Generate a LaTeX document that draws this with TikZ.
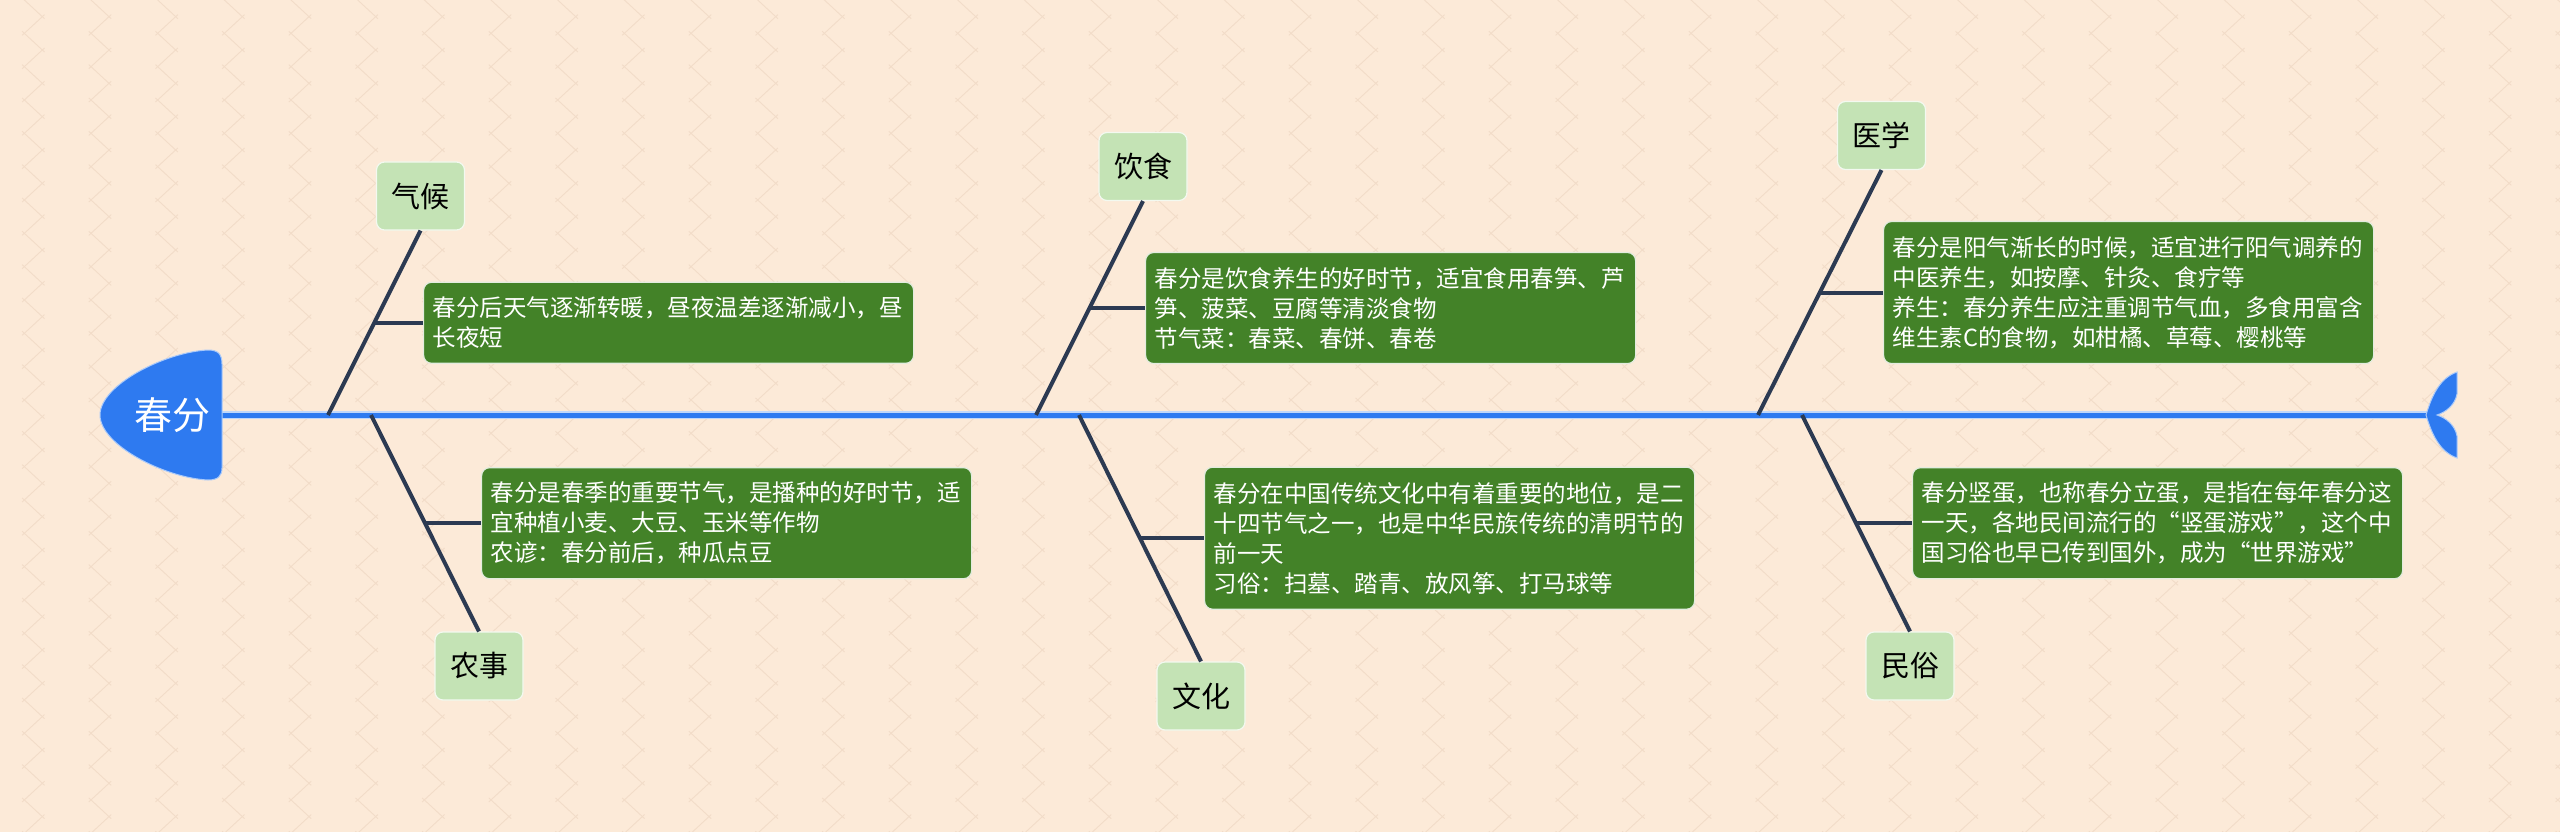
\documentclass[tikz,border=0pt]{standalone}
\usepackage{fontspec}
\setmainfont{Noto Sans CJK SC}
\usetikzlibrary{calc}
\definecolor{bgc}{RGB}{252,234,216}
\definecolor{patc}{RGB}{242,220,200}
\definecolor{spinec}{RGB}{46,122,240}
\definecolor{bonec}{RGB}{44,58,82}
\definecolor{lgreen}{RGB}{196,227,181}
\definecolor{dgreen}{RGB}{67,130,40}
\tikzset{
  pat/.style={draw=patc, line width=0.9pt, shorten <=-3pt, shorten >=-3pt},
  spineline/.style={draw=spinec, line width=5pt},
  spineedge/.style={draw=white!70!spinec, line width=7.5pt},
  bone/.style={draw=bonec, line width=4pt},
  twig/.style={draw=bonec, line width=4pt},
  detail/.style={draw=white!85!dgreen, line width=1.2pt, fill=dgreen, rounded corners=8pt,
    text=white, font=\fontsize{23.5pt}{30pt}\selectfont, align=left, text width=472pt,
    inner xsep=9pt, inner ysep=0pt, anchor=west},
  cat/.style={draw=white!80!lgreen, line width=1.2pt, fill=lgreen, rounded corners=8pt,
    text=black, font=\fontsize{29pt}{34pt}\selectfont, minimum width=88pt, minimum height=68pt,
    inner sep=0pt},
  fishpart/.style={fill=spinec, draw=white!60!spinec, line width=1pt},
}
\begin{document}
\begin{tikzpicture}[x=1pt,y=-1pt]
\useasboundingbox (0,0) rectangle (2560,832);
\fill[bgc] (0,0) rectangle (2560,832);
% background pattern
\foreach \c in {0,...,38}{
  \pgfmathsetmacro\cx{33.33+66.67*\c}
  \foreach \k in {0,...,25}{
    \pgfmathsetmacro\ya{33.33*\k}
    \draw[pat] (\cx-9,\ya) -- (\cx+9,\ya+16.67);
    \draw[pat] (\cx+9,\ya+16.67) -- (\cx-9,\ya+33.33);
  }
}
% spine coordinates
\coordinate (headE) at (220,415);
\coordinate (tailJ) at (2432,415);
\coordinate (s1) at (328,415);
\coordinate (s2) at (371,415);
\coordinate (s3) at (1036,415);
\coordinate (s4) at (1079,415);
\coordinate (s5) at (1758,415);
\coordinate (s6) at (1802,415);
% spine
\draw[spineedge] (headE) -- (tailJ);
\draw[spineline] (headE) -- (tailJ);
% head
\path[fishpart] (222,468) -- (222,364)
  .. controls (222,354) and (218,350) .. (208,350)
  .. controls (165,352) and (100,385) .. (100,415)
  .. controls (100,445) and (165,478) .. (208,480)
  .. controls (218,480) and (222,476) .. (222,468) -- cycle;
\node[text=white, font=\fontsize{38pt}{40pt}\selectfont, inner sep=0pt] (head) at (172,415) {春分};
% tail
\path[fishpart] (2426,415) .. controls (2432,395) and (2440,378) .. (2457,372)
  -- (2457,394) .. controls (2455,405) and (2446,412) .. (2437,415)
  .. controls (2446,418) and (2455,425) .. (2457,436)
  -- (2457,458) .. controls (2440,452) and (2432,435) .. (2426,415) -- cycle;
% category labels
\node[cat] (l1) at (420.5,196) {气候};
\node[cat] (l2) at (479,666) {农事};
\node[cat] (l3) at (1143,166.5) {饮食};
\node[cat] (l4) at (1201,696) {文化};
\node[cat] (l5) at (1881.5,135.5) {医学};
\node[cat] (l6) at (1910,666) {民俗};
% bones
\draw[bone] (s1) -- (l1.south);
\draw[bone] (s2) -- (l2.north);
\draw[bone] (s3) -- (l3.south);
\draw[bone] (s4) -- (l4.north);
\draw[bone] (s5) -- (l5.south);
\draw[bone] (s6) -- (l6.north);
% midpoints
\coordinate (m1) at ($(s1)!0.5!(l1.south)$);
\coordinate (m2) at ($(s2)!0.5!(l2.north)$);
\coordinate (m3) at ($(s3)!0.5!(l3.south)$);
\coordinate (m4) at ($(s4)!0.5!(l4.north)$);
\coordinate (m5) at ($(s5)!0.5!(l5.south)$);
\coordinate (m6) at ($(s6)!0.5!(l6.north)$);
% detail boxes
\node[detail, minimum height=81pt] (t1) at (423,0 |- m1) {春分后天气逐渐转暖，昼夜温差逐渐减小，昼\\长夜短};
\node[detail, minimum height=111pt] (t2) at (481,0 |- m2) {春分是春季的重要节气，是播种的好时节，适\\宜种植小麦、大豆、玉米等作物\\农谚：春分前后，种瓜点豆};
\node[detail, minimum height=111pt] (t3) at (1145,0 |- m3) {春分是饮食养生的好时节，适宜食用春笋、芦\\笋、菠菜、豆腐等清淡食物\\节气菜：春菜、春饼、春卷};
\node[detail, minimum height=142pt] (t4) at (1204,0 |- m4) {春分在中国传统文化中有着重要的地位，是二\\十四节气之一，也是中华民族传统的清明节的\\前一天\\习俗：扫墓、踏青、放风筝、打马球等};
\node[detail, minimum height=142pt] (t5) at (1883,0 |- m5) {春分是阳气渐长的时候，适宜进行阳气调养的\\中医养生，如按摩、针灸、食疗等\\养生：春分养生应注重调节气血，多食用富含\\维生素C的食物，如柑橘、草莓、樱桃等};
\node[detail, minimum height=111pt] (t6) at (1912,0 |- m6) {春分竖蛋，也称春分立蛋，是指在每年春分这\\一天，各地民间流行的“竖蛋游戏”，这个中\\国习俗也早已传到国外，成为“世界游戏”};
% twigs
\draw[twig] (m1) -- (m1 -| t1.west);
\draw[twig] (m2) -- (m2 -| t2.west);
\draw[twig] (m3) -- (m3 -| t3.west);
\draw[twig] (m4) -- (m4 -| t4.west);
\draw[twig] (m5) -- (m5 -| t5.west);
\draw[twig] (m6) -- (m6 -| t6.west);
\end{tikzpicture}
\end{document}
